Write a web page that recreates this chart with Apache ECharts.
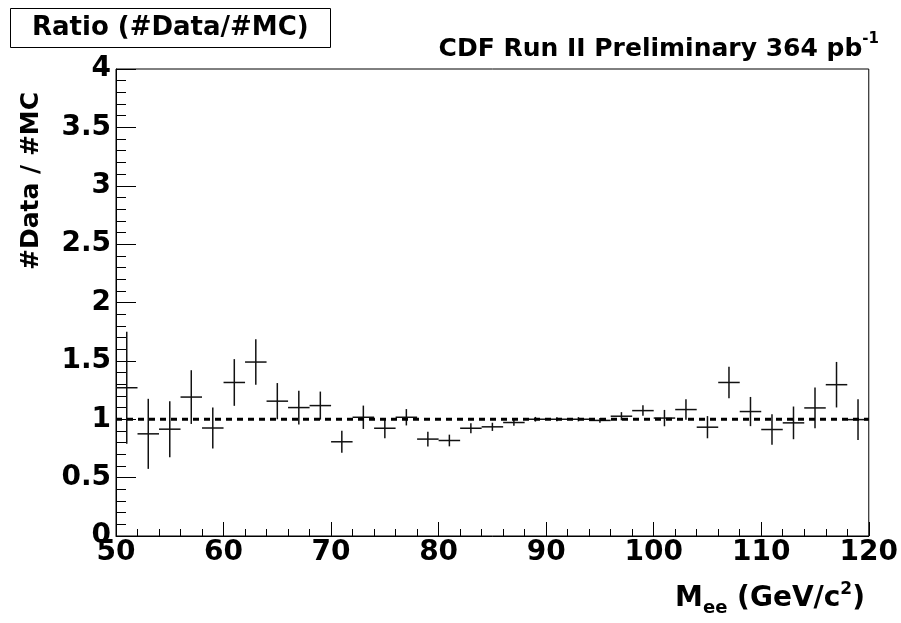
<!DOCTYPE html>
<html>
<head>
<meta charset="utf-8">
<script src="https://cdn.jsdelivr.net/npm/echarts@6/dist/echarts.min.js"></script>
<style>
html,body{margin:0;padding:0;background:#fff;}
#chart{width:901px;height:623px;}
</style>
</head>
<body>
<div id="chart"></div>
<script>
// Bin centres (GeV/c^2), bin width 2
const binCenters = [51,53,55,57,59,61,63,65,67,69,71,73,75,77,79,81,83,85,87,89,91,93,95,97,99,101,103,105,107,109,111,113,115,117,119];
// Ratio #Data/#MC
const ratioValues = [1.27,0.875,0.915,1.19,0.925,1.315,1.49,1.155,1.10,1.117,0.807,1.017,0.923,1.017,0.83,0.818,0.923,0.935,0.972,1.0,1.0,1.0,0.99,1.026,1.074,1.01,1.083,0.932,1.315,1.066,0.912,0.969,1.097,1.296,0.997];
// Symmetric errors
const ratioErrors = [0.48,0.30,0.24,0.23,0.175,0.20,0.195,0.155,0.145,0.12,0.095,0.10,0.085,0.07,0.064,0.05,0.043,0.035,0.028,0.02,0.018,0.018,0.02,0.035,0.045,0.07,0.088,0.095,0.135,0.125,0.13,0.14,0.175,0.195,0.175];
const binHalfWidth = 1;
// Reference line at ratio = 1
const refLine = [[50,1],[120,1]];

const FONT = 'DejaVu Sans';
const chart = echarts.init(document.getElementById('chart'));
const pts = binCenters.map((c,i)=>[c, ratioValues[i], ratioErrors[i]]);

chart.setOption({
  backgroundColor:'#fff',
  animation:false,
  title:[
    {text:'Ratio (#Data/#MC)', left:10, top:8,
     borderColor:'#000', borderWidth:1, padding:[5,22,5,22],
     textStyle:{fontFamily:FONT, fontWeight:'bold', fontSize:26, lineHeight:30, color:'#000'}},
    {text:'{a|CDF Run II Preliminary 364 pb}{s|-1}', right:17, top:27,
     textStyle:{rich:{
       a:{fontFamily:FONT, fontWeight:'bold', fontSize:25, lineHeight:30, color:'#000', verticalAlign:'bottom'},
       s:{fontFamily:FONT, fontWeight:'bold', fontSize:15, lineHeight:16, color:'#000', verticalAlign:'top'}
     }}},
    {text:'{m|M}{sub|ee}{m| (GeV/c}{sup|2}{m|)}', right:31, top:576,
     textStyle:{rich:{
       m:{fontFamily:FONT, fontWeight:'bold', fontSize:28, lineHeight:36, color:'#000', verticalAlign:'middle'},
       sub:{fontFamily:FONT, fontWeight:'bold', fontSize:18, lineHeight:18, color:'#000', verticalAlign:'bottom'},
       sup:{fontFamily:FONT, fontWeight:'bold', fontSize:17, lineHeight:17, color:'#000', verticalAlign:'top'}
     }}}
  ],
  graphic:[
    {type:'text', x:31, y:181, rotation:Math.PI/2,
     style:{text:'#Data / #MC', fontFamily:FONT, fontWeight:'bold', fontSize:25, fill:'#000', textAlign:'center', textVerticalAlign:'middle'}}
  ],
  grid:{left:116, right:29, top:69, bottom:87, show:true, borderColor:'#000', borderWidth:1, backgroundColor:'transparent'},
  xAxis:{
    type:'value', min:50, max:120, interval:10,
    axisLine:{lineStyle:{color:'#000', width:1}},
    axisTick:{inside:true, length:14, lineStyle:{color:'#000', width:1}},
    minorTick:{show:true, splitNumber:5, length:7, lineStyle:{color:'#000', width:1}},
    splitLine:{show:false},
    axisLabel:{fontFamily:FONT, fontWeight:'bold', fontSize:28, color:'#000', margin:3}
  },
  yAxis:{
    type:'value', min:0, max:4, interval:0.5,
    axisLine:{show:true, lineStyle:{color:'#000', width:1}},
    axisTick:{show:true, inside:true, length:20, lineStyle:{color:'#000', width:1}},
    minorTick:{show:true, splitNumber:5, length:10, lineStyle:{color:'#000', width:1}},
    splitLine:{show:false},
    axisLabel:{fontFamily:FONT, fontWeight:'bold', fontSize:28, color:'#000', margin:5,
      formatter:function(v){return String(v);}}
  },
  series:[
    {type:'line', data:refLine, symbol:'none', silent:true,
     lineStyle:{color:'#000', width:3, type:[6,5]}},
    {type:'custom', data:pts, clip:true,
     renderItem:function(params, api){
       const x=api.value(0), y=api.value(1), e=api.value(2);
       const l=api.coord([x-binHalfWidth,y]), r=api.coord([x+binHalfWidth,y]);
       const t=api.coord([x,y+e]), b=api.coord([x,y-e]);
       const st={stroke:'#111', lineWidth:1.5};
       return {type:'group', children:[
         {type:'line', shape:{x1:l[0],y1:l[1],x2:r[0],y2:r[1]}, style:st},
         {type:'line', shape:{x1:t[0],y1:t[1],x2:b[0],y2:b[1]}, style:st}
       ]};
     }}
  ]
});
</script>
</body>
</html>
